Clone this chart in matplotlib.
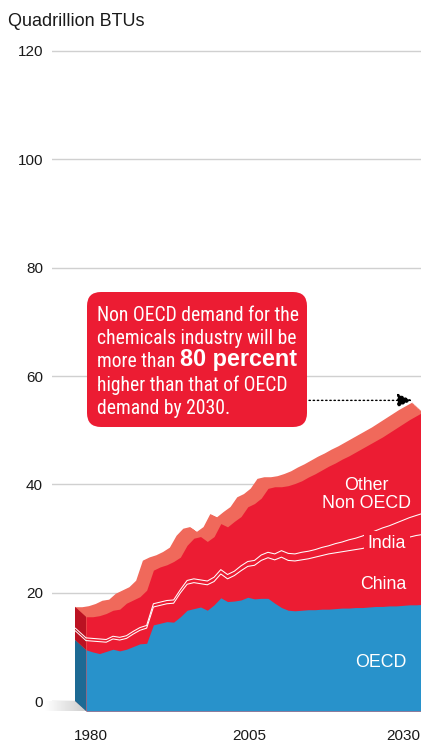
import numpy as np
import matplotlib
matplotlib.use("Agg")
import matplotlib.pyplot as plt
from matplotlib import font_manager
from matplotlib.patches import FancyBboxPatch, Polygon
from matplotlib.colors import LinearSegmentedColormap
from matplotlib.transforms import ScaledTranslation

# -----------------------------------------------------------------------------
# Data (quadrillion BTUs)
# -----------------------------------------------------------------------------
years = np.arange(1980, 2031)

oecd = np.array([
    11.3, 10.9, 10.6, 11.0, 11.4, 11.1, 11.4, 11.9, 12.4, 12.5,
    15.9, 16.2, 16.5, 16.4, 17.4, 18.6, 18.9, 19.2, 18.6, 19.6,
    20.9, 20.2, 20.3, 20.5, 21.0, 20.7, 20.8, 20.8, 19.9, 19.1,
    18.6, 18.5, 18.6, 18.7, 18.7, 18.8, 18.8, 18.9, 19.0, 19.0,
    19.1, 19.1, 19.2, 19.3, 19.3, 19.4, 19.4, 19.5, 19.6, 19.6, 19.7])
china = np.array([
    1.7, 2.0, 2.2, 1.7, 1.9, 2.0, 2.0, 2.3, 2.5, 2.8,
    3.3, 3.3, 3.3, 3.5, 4.4, 4.8, 4.8, 4.3, 4.7, 4.3,
    4.4, 4.2, 4.7, 5.4, 5.7, 6.2, 7.0, 7.5, 8.0, 9.3,
    9.2, 9.2, 9.3, 9.4, 9.7, 9.9, 10.2, 10.3, 10.4, 10.6,
    10.7, 10.9, 11.1, 11.3, 11.6, 11.8, 12.1, 12.3, 12.5, 12.8, 12.9])
india = np.array([
    0.5, 0.5, 0.5, 0.5, 0.5, 0.5, 0.5, 0.5, 0.5, 0.5,
    0.6, 0.6, 0.6, 0.6, 0.6, 0.7, 0.7, 0.7, 0.7, 0.8,
    0.8, 0.8, 0.8, 0.9, 0.9, 0.9, 1.0, 1.0, 1.1, 1.2,
    1.3, 1.3, 1.4, 1.4, 1.4, 1.5, 1.5, 1.7, 1.8, 2.0,
    2.1, 2.3, 2.5, 2.7, 2.9, 3.0, 3.2, 3.4, 3.6, 3.7, 3.9])
other = np.array([
    3.9, 4.0, 4.3, 4.8, 4.8, 5.2, 6.0, 5.8, 5.7, 6.5,
    6.2, 6.5, 6.6, 7.1, 6.0, 6.5, 7.5, 8.0, 7.3, 7.5,
    8.5, 8.8, 9.2, 9.1, 10.1, 10.5, 10.5, 11.8, 12.4, 11.8,
    12.5, 13.0, 13.2, 13.7, 14.0, 14.3, 14.7, 14.9, 15.3, 15.5,
    15.9, 16.2, 16.4, 16.6, 16.8, 17.2, 17.5, 17.8, 18.1, 18.4, 18.7])

tick_years = [1980, 2005, 2030]
y_ticks = [0, 20, 40, 60, 80, 100, 120]

# colours
BLUE = "#2892cb"
BLUE_SIDE = "#1d6a94"
RED = "#ec1c33"
RED_SIDE = "#bb1222"
SALMON = "#f0695b"
GRID = "#d0d0d0"

plt.rcParams['font.family'] = ['Liberation Sans', 'DejaVu Sans']
names = {f.name for f in font_manager.fontManager.ttflist}
box_font, box_size = 'Liberation Sans', 12.3
for cand, size in [('Liberation Sans Narrow', 14.8), ('Roboto Condensed', 14.1)]:
    if cand in names:
        box_font, box_size = cand, size
        break

# -----------------------------------------------------------------------------
# Figure / axes
# -----------------------------------------------------------------------------
W, H = 421, 742
fig = plt.figure(figsize=(W / 100, H / 100), dpi=100)
ax = fig.add_axes([52 / W, 27 / H, 369 / W, 670 / H])

PX_YEAR = 6.74      # pixels per year
PX_UNIT = 5.4167    # pixels per quadrillion BTU
x0, x1 = 1980 - 23 / PX_YEAR, 1980 + 346 / PX_YEAR
y0, y1 = -14 / PX_UNIT, 120 + 6 / PX_UNIT

# depth of the extrusion (front face is shifted right/down)
DX = 11 / PX_YEAR
DY = 10 / PX_UNIT

c_top = oecd + china
i_top = c_top + india
total = i_top + other

# top surface: sweep from back to front
for t in np.linspace(0, 1, 16):
    ax.fill_between(years + t * DX, -t * DY, total - t * DY,
                    color=SALMON, lw=0, zorder=2)

# left side face
xs = [years[0], years[0], years[0] + DX, years[0] + DX]
ax.fill(xs, [0, oecd[0], oecd[0] - DY, -DY], color=BLUE_SIDE, lw=0, zorder=3)
ax.fill(xs, [oecd[0], total[0], total[0] - DY, oecd[0] - DY],
        color=RED_SIDE, lw=0, zorder=3)
for v in (c_top[0], i_top[0]):
    ax.plot([years[0], years[0] + DX], [v, v - DY], color='white', lw=0.7,
            zorder=4, solid_capstyle='butt')

# front face
xf = years + DX
ax.fill_between(xf, -DY, total - DY, color=RED, lw=0, zorder=5)
ax.fill_between(xf, -DY, oecd - DY, color=BLUE, lw=0, zorder=6)
ax.plot(xf, c_top - DY, color='white', lw=0.75, zorder=7)
ax.plot(xf, i_top - DY, color='white', lw=0.75, zorder=7)

# floor shadow left of the block
fl = 1980 - 30 / PX_YEAR
floor = Polygon([(fl, 0), (years[0], 0), (years[0] + DX, -DY), (fl, -DY)],
                closed=True, transform=ax.transData, facecolor='none', edgecolor='none')
cmap = LinearSegmentedColormap.from_list('floor', ['#ffffff', '#cdcdcd'])
im = ax.imshow(np.linspace(0, 1, 64).reshape(1, -1), extent=(fl, years[0] + DX, -DY, 0),
               aspect='auto', cmap=cmap, zorder=1, clip_on=False)
im.set_clip_path(floor)

ax.set_xlim(x0, x1)
ax.set_ylim(y0, y1)

# axes styling
for s in ax.spines.values():
    s.set_visible(False)
ax.set_yticks(y_ticks)
ax.set_yticklabels([str(v) for v in y_ticks])
ax.set_xticks([y + DX / 2 for y in tick_years])
ax.set_xticklabels([str(y) for y in tick_years])
ax.tick_params(axis='y', length=0, pad=6.5, labelsize=11, labelcolor='#1a1a1a')
ax.tick_params(axis='x', length=0, pad=10, labelsize=11, labelcolor='#1a1a1a')
ax.yaxis.grid(True, color=GRID, lw=1.0)
ax.xaxis.grid(False)
ax.set_axisbelow(True)
# nudge outer year labels the way the reference sets them
xl = ax.get_xticklabels()
xl[0].set_transform(xl[0].get_transform() + ScaledTranslation(0.10, 0, fig.dpi_scale_trans))
xl[-1].set_transform(xl[-1].get_transform() + ScaledTranslation(-0.145, 0, fig.dpi_scale_trans))

fig.text(8 / W, 1 - 26 / H, "Quadrillion BTUs", fontsize=13, va='baseline',
         ha='left', color='#1a1a1a')

# series labels
lab = dict(color='white', fontsize=12.8, ha='center', va='baseline', zorder=9)
ax.text(2023.2, 39.0, "Other", **lab)
ax.text(2023.2, 35.6, "Non OECD", **lab)
ax.text(2026.3, 28.25, "India", bbox=dict(boxstyle='square,pad=0.22', fc=RED, ec='none'),
        **lab)
ax.text(2025.7, 20.6, "China", **lab)
ax.text(2025.4, 6.2, "OECD", **lab)

# callout box
box = FancyBboxPatch((0.87, (H - 427) / 100), 2.20, 1.35,
                     boxstyle="round,pad=0,rounding_size=0.14",
                     transform=fig.dpi_scale_trans, fc=RED, ec='none',
                     zorder=10, clip_on=False)
ax.add_patch(box)
bx = 97 / W
bt = dict(color='white', fontsize=box_size, family=box_font, ha='left',
          va='baseline', zorder=11, transform=fig.transFigure, clip_on=False)
ax.text(bx, 1 - 321 / H, "Non OECD demand for the", **bt)
ax.text(bx, 1 - 344 / H, "chemicals industry will be", **bt)
t3 = ax.text(bx, 1 - 367.5 / H, "more than ", **bt)
ax.text(bx, 1 - 391 / H, "higher than that of OECD", **bt)
ax.text(bx, 1 - 413.5 / H, "demand by 2030.", **bt)
ax.annotate("80 percent", xy=(1, 0), xycoords=t3, xytext=(0, 0),
            textcoords='offset points', fontsize=16.8, fontweight='bold',
            color='white', ha='left', va='bottom', zorder=12,
            annotation_clip=False)

# dotted arrow to the 2030 total
ax.annotate("", xy=(years[-1], total[-1] + 0.3), xycoords='data',
            xytext=(-103, 0), textcoords='offset pixels',
            arrowprops=dict(arrowstyle='-|>,head_length=0.9,head_width=0.42',
                            linestyle=(0, (1, 2)), lw=1.0, color='black',
                            shrinkA=0, shrinkB=0, mutation_scale=10),
            zorder=12, annotation_clip=False)

fig.savefig("out.png", dpi=100)
